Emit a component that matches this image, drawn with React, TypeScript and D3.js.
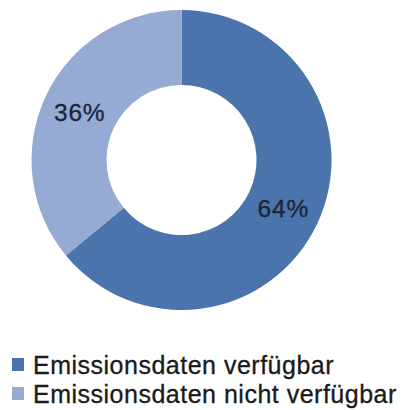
import React from "react";
import * as d3 from "d3";

const categories = ["Emissionsdaten verfügbar", "Emissionsdaten nicht verfügbar"];
const values = [64, 36];
const colors = ["#4a74ab", "#95abd4"];

const W = 410;
const H = 410;
const cx = 181.5;
const cy = 160;
const outerR = 150;
const innerR = 75;

export default function App() {
  const pie = d3.pie<number>().sort(null).value((d) => d);
  const arcs = pie(values);
  const arcGen = d3.arc<d3.PieArcDatum<number>>().innerRadius(innerR).outerRadius(outerR);
  const total = d3.sum(values);

  const legendY = d3.scaleBand<string>().domain(categories).range([352, 410]);

  return (
    <svg
      width={W}
      height={H}
      style={{ position: "absolute", left: 0, top: 0, background: "#fff" }}
      fontFamily="'Liberation Sans', Arial, sans-serif"
    >
      <g transform={`translate(${cx},${cy})`}>
        {arcs.map((a, i) => (
          <path key={i} d={arcGen(a) || ""} fill={colors[i]} />
        ))}
        {arcs.map((a, i) => {
          const [x, y] = arcGen.centroid(a);
          return (
            <text
              key={"t" + i}
              x={x}
              y={y}
              dy="0.36em"
              textAnchor="middle"
              fontSize={24.5}
              letterSpacing={0.8}
              fill="#1b2537"
              stroke="#1b2537"
              strokeWidth={0.3}
            >
              {Math.round((values[i] / total) * 100)}%
            </text>
          );
        })}
      </g>
      {categories.map((c, i) => {
        const y0 = legendY(c)!;
        return (
          <g key={c}>
            <rect x={12} y={y0 + 6} width={12} height={13} fill={colors[i]} />
            <text
              x={33}
              y={y0 + 22}
              fontSize={25}
              letterSpacing={0.5}
              fill="#1a1a1a"
              stroke="#1a1a1a"
              strokeWidth={0.3}
            >
              {c}
            </text>
          </g>
        );
      })}
    </svg>
  );
}
